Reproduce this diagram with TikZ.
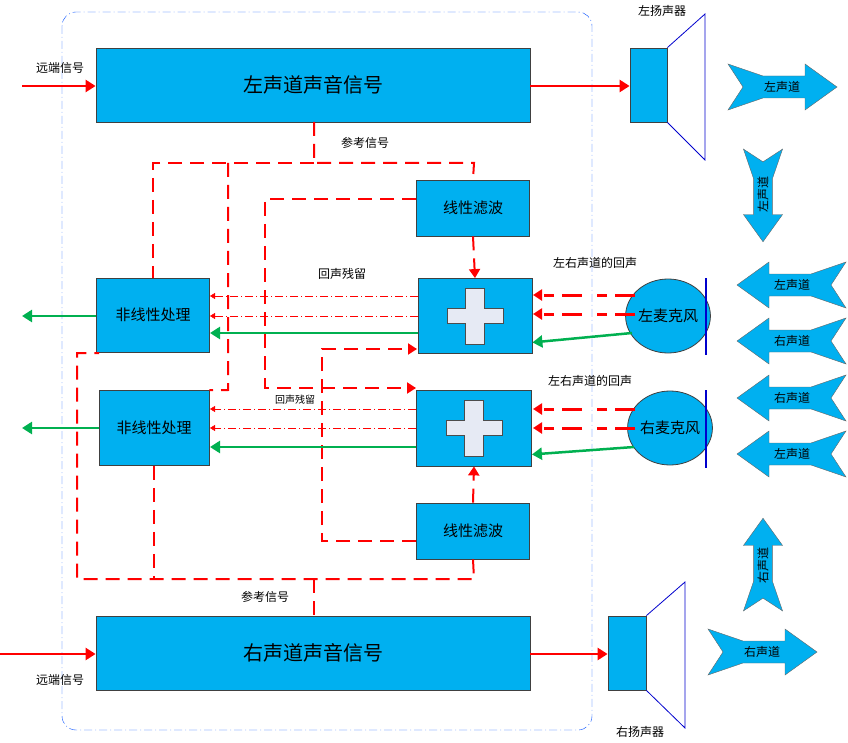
\documentclass[tikz,border=0pt]{standalone}
\usepackage{fontspec}
\setmainfont{Noto Sans CJK SC}
\usetikzlibrary{arrows.meta,shapes.geometric}
\definecolor{boxblue}{HTML}{00B0F0}
\definecolor{sigred}{HTML}{FF0000}
\definecolor{outgreen}{HTML}{00B050}
\definecolor{plusgray}{HTML}{E6EAF4}
\tikzset{
  block/.style={draw=black!75, fill=boxblue, thick},
  refline/.style={sigred, line width=2pt, dash pattern=on 14pt off 8pt},
  refarr/.style={refline, -{Triangle[length=9pt,width=11pt]}},
  sigarr/.style={sigred, line width=2.5pt, -{Triangle[length=10pt,width=12pt]}},
  echoarr/.style={sigred, thin, dash pattern=on 8pt off 3pt on 1pt off 3pt, -{Triangle[length=5pt,width=6pt]}},
  outarr/.style={outgreen, line width=2.5pt, -{Triangle[length=10pt,width=12pt]}},
  lbl/.style={font=\fontsize{12}{12}\selectfont},
  pics/chan/.style 2 args={code={
    \draw[fill=boxblue, draw=black!60] (-54,-23) -- (-19,-11) -- (23,-11) -- (23,-23) -- (55,0)
      -- (23,23) -- (23,11) -- (-19,11) -- (-54,23) -- (-39,0) -- cycle;
    \node[lbl, rotate=#2] at (0,0) {#1};
  }}
}
\begin{document}
\begin{tikzpicture}[x=1pt, y=-1pt]
\useasboundingbox (0,0) rectangle (848,743);
% frame
\draw[blue!70!cyan, dash pattern=on 8pt off 3pt on 1pt off 3pt, rounded corners=14pt] (62,12) rectangle (592,730);
% signal blocks
\node[block, minimum width=434pt, minimum height=74pt, font=\fontsize{20}{20}\selectfont] (lsig) at (313,85) {左声道声音信号};
\node[block, minimum width=434pt, minimum height=74pt, font=\fontsize{20}{20}\selectfont] (rsig) at (313,653) {右声道声音信号};
\node[block, minimum width=113pt, minimum height=56pt, font=\fontsize{15}{15}\selectfont] (lflt) at (473,208) {线性滤波};
\node[block, minimum width=113pt, minimum height=56pt, font=\fontsize{15}{15}\selectfont] (rflt) at (473,531) {线性滤波};
\node[block, minimum width=114pt, minimum height=75pt] (ladd) at (475,316) {};
\node[block, minimum width=115pt, minimum height=76pt] (radd) at (474,428) {};
\node[block, minimum width=113pt, minimum height=74pt, font=\fontsize{15}{15}\selectfont] (lnlp) at (153,315) {非线性处理};
\node[block, minimum width=110pt, minimum height=75pt, font=\fontsize{15}{15}\selectfont] (rnlp) at (154,428) {非线性处理};
% plus signs
\foreach \a in {ladd,radd}
  \draw[fill=plusgray, draw=black!70] ([shift={(-9.5,-28)}]\a.center) -- ++(19,0) -- ++(0,20.5) -- ++(18.5,0) -- ++(0,15)
    -- ++(-18.5,0) -- ++(0,20.5) -- ++(-19,0) -- ++(0,-20.5) -- ++(-18.5,0) -- ++(0,-15) -- ++(18.5,0) -- cycle;
% microphones
\node[ellipse, block, minimum width=80pt, minimum height=74pt, inner sep=0pt, font=\fontsize{15}{15}\selectfont] (lmic) at (668,316) {左麦克风};
\node[ellipse, block, minimum width=80pt, minimum height=74pt, inner sep=0pt, font=\fontsize{15}{15}\selectfont] (rmic) at (670,428) {右麦克风};
\draw[blue!80!black, line width=2pt] (706,278) -- (706,355);
\draw[blue!80!black, line width=2pt] (706,390) -- (706,468);
% speakers
\node[block, minimum width=37pt, minimum height=74pt] (lspk) at (648.5,85) {};
\node[block, minimum width=38pt, minimum height=74pt] (rspk) at (627,653) {};
\draw[blue!80!black, thick] (lspk.north east) -- (705,14) -- (705,160) -- (lspk.south east);
\draw[blue!80!black, thick] (rspk.north east) -- (685,582) -- (685,728) -- (rspk.south east);
\node[lbl] at (662,11) {左扬声器};
\node[lbl] at (640,732) {右扬声器};
% far-end input
\coordinate (lin) at (22,86);
\coordinate (rin) at (0,654);
\draw[sigarr] (lin) -- (lsig.west |- lin);
\draw[sigarr] (rin) -- (rsig.west |- rin);
\node[lbl] at (60,68) {远端信号};
\node[lbl] at (60,680) {远端信号};
\draw[sigarr] (lsig.east |- lin) -- (lspk.west |- lin);
\draw[sigarr] (rsig.east |- rin) -- (rspk.west |- rin);
% reference paths
\draw[refline] (314,122) -- (314,163) -- (474,163) -- (lflt.north);
\draw[refline] (314,163) -- (153,163) -- (153,278);
\draw[refline] (228,163) -- (228,390) -- (rnlp.north east);
\draw[refarr] (416,199) -- (265,199) -- (265,388) -- (416,388);
\draw[refarr] (416,541) -- (322,541) -- (322,349) -- (417,349);
\draw[refline] (rflt.south) -- (474,579) -- (77,579) -- (77,353) -- (99,353);
\draw[refline] (rnlp.south) -- (154,579);
\draw[refline] (314,579) -- (314,616);
\node[lbl] at (365,143) {参考信号};
\node[lbl] at (265,597) {参考信号};
\draw[refarr] (lflt.south) -- (ladd.north);
\draw[refarr] (rflt.north) -- (radd.south);
% microphone to adder
\foreach \y in {295,314,409,428}
  \draw[sigred, line width=3pt, dash pattern=on 20pt off 8pt on 10pt off 15pt, -{Triangle[length=9pt,width=11pt]}] (635,\y) -- (533,\y);
\draw[outarr] (632,333) -- (ladd.east |- lmic.south west);
\draw[outarr] (634,447) -- (radd.east |- rmic.south west);
\node[lbl] at (595,263) {左右声道的回声};
\node[lbl] at (590,381) {左右声道的回声};
% residual echo and output
\foreach \y in {296,316} \draw[echoarr] (418,\y) -- (210,\y);
\foreach \y in {409,428} \draw[echoarr] (416,\y) -- (210,\y);
\draw[outarr] (418,333) -- (210,333);
\draw[outarr] (416,447) -- (210,447);
\node[lbl] at (342,274) {回声残留};
\node[lbl, font=\fontsize{10}{10}\selectfont] at (295,400) {回声残留};
\coordinate (lout) at (22,316);
\coordinate (rout) at (22,428);
\draw[outarr] (lnlp.west |- lout) -- (lout);
\draw[outarr] (rnlp.west |- rout) -- (rout);
% sound channels
\pic at (782,87) {chan={左声道}{0}};
\pic[rotate=-90, scale=0.85] at (763,195) {chan={左声道}{90}};
\pic[rotate=180] at (792,285) {chan={左声道}{0}};
\pic[rotate=180] at (792,341) {chan={右声道}{0}};
\pic[rotate=180] at (792,398) {chan={右声道}{0}};
\pic[rotate=180] at (792,454) {chan={左声道}{0}};
\pic[rotate=90, scale=0.85] at (763,565) {chan={右声道}{90}};
\pic at (762,652) {chan={右声道}{0}};
\end{tikzpicture}
\end{document}
